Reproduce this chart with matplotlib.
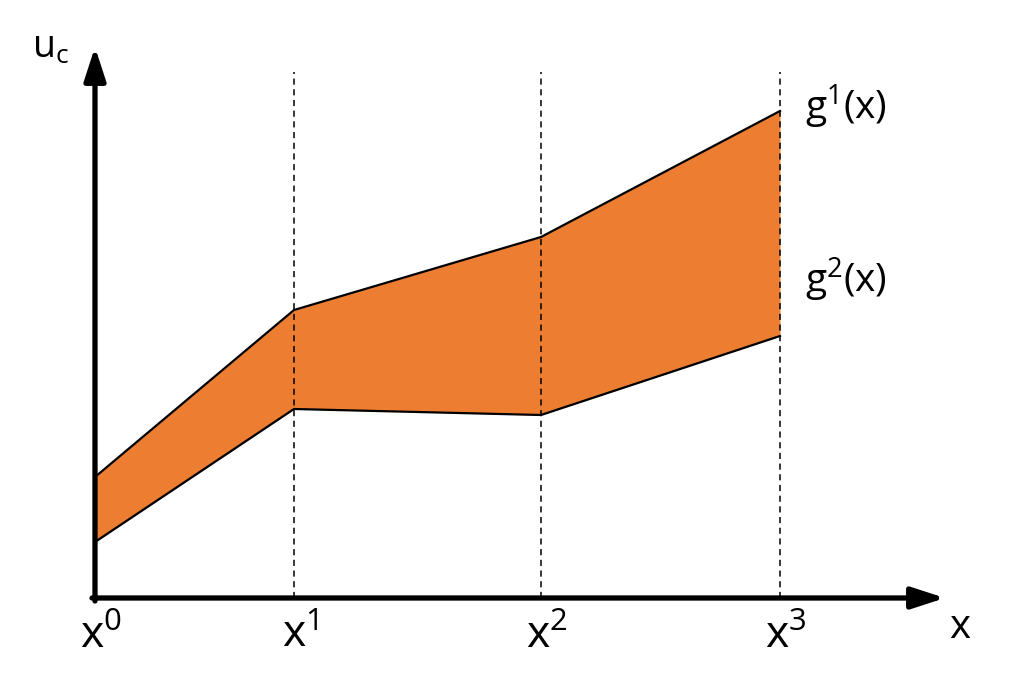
import matplotlib
matplotlib.use("Agg")
import matplotlib.pyplot as plt

plt.rcParams['font.family'] = ['Open Sans', 'DejaVu Sans']
plt.rcParams['mathtext.fontset'] = 'custom'
plt.rcParams['mathtext.rm'] = 'Open Sans'
plt.rcParams['mathtext.it'] = 'Open Sans'

# data
x_pts = [0.0, 1.99, 4.46, 6.85]
g1 = [1.21, 2.88, 3.61, 4.87]
g2 = [0.56, 1.89, 1.83, 2.62]
x_labels = [r'$\mathregular{x^0}$', r'$\mathregular{x^1}$', r'$\mathregular{x^2}$', r'$\mathregular{x^3}$']
curve_labels = [r'$\mathregular{g^1(x)}$', r'$\mathregular{g^2(x)}$']

fig = plt.figure(figsize=(10.25, 6.92), dpi=100)
ax = fig.add_axes([0, 0, 1, 1])
ax.set_xlim(-0.95, 9.30)
ax.set_ylim(-0.94, 5.98)
ax.axis('off')

orange = '#ED7D31'
ax.fill_between(x_pts, g2, g1, color=orange, lw=0, zorder=1)
ax.plot(x_pts, g1, color='k', lw=1.6, zorder=3)
ax.plot(x_pts, g2, color='k', lw=1.6, zorder=3)

# dashed verticals
for xv in x_pts[1:]:
    ax.plot([xv, xv], [0, 5.26], color='k', lw=1.1, ls=(0, (4, 3)), zorder=2)

# axes arrows
ap = dict(arrowstyle='-|>,head_length=2.0,head_width=0.65', lw=3.8, color='k',
          shrinkA=0, shrinkB=0, mutation_scale=10)
ax.annotate('', xy=(0, 5.51), xytext=(0, -0.03), arrowprops=ap, zorder=5)
ax.annotate('', xy=(8.50, 0), xytext=(-0.03, 0), arrowprops=ap, zorder=5)

# tick labels
for xv, lab in zip(x_pts, x_labels):
    ax.text(xv + 0.06, -0.50, lab, fontsize=32, ha='center', va='baseline')
ax.text(8.65, -0.40, 'x', fontsize=29, ha='center', va='baseline')
ax.text(-0.44, 5.40, r'$\mathregular{u_c}$', fontsize=27, ha='center', va='baseline')

ax.text(7.10, 4.78, curve_labels[0], fontsize=28, ha='left', va='baseline')
ax.text(7.10, 3.05, curve_labels[1], fontsize=28, ha='left', va='baseline')

fig.savefig('out.png', dpi=100)
